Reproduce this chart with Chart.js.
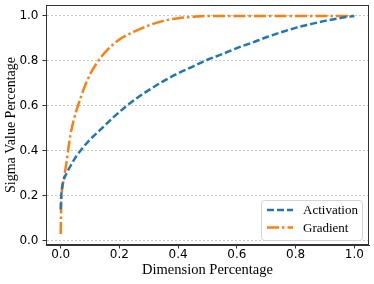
<!DOCTYPE html>
<html>
<head>
<meta charset="utf-8">
<script src="https://cdn.jsdelivr.net/npm/chart.js@4"></script>
<style>
  html, body { margin: 0; padding: 0; background: #fff; }
</style>
</head>
<body>
<canvas id="chart" width="374" height="284"></canvas>
<script>
// values
const activationX = [0, 0.002, 0.005, 0.01, 0.02, 0.03, 0.05, 0.07, 0.1, 0.14, 0.18, 0.22, 0.26, 0.3,
  0.35, 0.4, 0.45, 0.5, 0.55, 0.6, 0.65, 0.7, 0.75, 0.8, 0.85, 0.9, 0.95, 1.0];
const activationY = [0.14, 0.20, 0.24, 0.27, 0.30, 0.325, 0.37, 0.405, 0.45, 0.50, 0.55, 0.595, 0.635, 0.67,
  0.71, 0.745, 0.775, 0.805, 0.83, 0.857, 0.88, 0.905, 0.927, 0.947, 0.963, 0.978, 0.99, 1.0];

const gradientX = [0, 0.002, 0.005, 0.01, 0.015, 0.02, 0.025, 0.033, 0.045, 0.06, 0.08, 0.1, 0.128, 0.16,
  0.2, 0.25, 0.3, 0.35, 0.4, 0.45, 0.5, 0.6, 0.7, 0.8, 0.9, 1.0];
const gradientY = [0.03, 0.18, 0.23, 0.27, 0.31, 0.35, 0.40, 0.47, 0.54, 0.605, 0.68, 0.74, 0.80, 0.85,
  0.895, 0.93, 0.958, 0.978, 0.99, 0.996, 1.0, 1.0, 1.0, 1.0, 1.0, 1.0];

const xTicks = [0, 0.2, 0.4, 0.6, 0.8, 1.0];
const yTicks = [0, 0.2, 0.4, 0.6, 0.8, 1.0];

const toPoints = (xs, ys) => xs.map((x, i) => ({ x: x, y: ys[i] }));

const serif = '"Liberation Serif", "DejaVu Serif", serif';
const sans = '"DejaVu Sans", sans-serif';

// box around the plot area (matplotlib-style spines)
const framePlugin = {
  id: 'frame',
  afterDatasetsDraw(chart) {
    const a = chart.chartArea;
    const ctx = chart.ctx;
    ctx.save();
    ctx.strokeStyle = '#333';
    ctx.lineWidth = 1;
    ctx.strokeRect(Math.round(a.left) + 0.5, Math.round(a.top) + 0.5,
      Math.round(a.right - a.left) - 1, Math.round(a.bottom - a.top) - 1);
    ctx.restore();
  }
};

// legend inside the plot, lower right
const legendPlugin = {
  id: 'innerLegend',
  afterDraw(chart) {
    const ctx = chart.ctx;
    const a = chart.chartArea;
    const w = 101, h = 40;
    const bx = a.right - 7 - w, by = a.bottom - 5 - h;
    ctx.save();
    ctx.beginPath();
    ctx.roundRect(bx + 0.5, by + 0.5, w, h, 3);
    ctx.fillStyle = 'rgba(255,255,255,0.8)';
    ctx.fill();
    ctx.strokeStyle = '#d4d4d4';
    ctx.lineWidth = 1;
    ctx.stroke();
    chart.data.datasets.forEach((ds, i) => {
      const y = by + 10 + i * 17.6;
      ctx.beginPath();
      ctx.setLineDash(ds.borderDash);
      ctx.strokeStyle = ds.borderColor;
      ctx.lineWidth = ds.borderWidth;
      ctx.moveTo(bx + 6, y);
      ctx.lineTo(bx + 32, y);
      ctx.stroke();
      ctx.setLineDash([]);
      ctx.fillStyle = '#000';
      ctx.font = '13px ' + serif;
      ctx.textBaseline = 'middle';
      ctx.textAlign = 'left';
      ctx.fillText(ds.label, bx + 42, y + 0.5);
    });
    ctx.restore();
  }
};

const fixPadding = axis => {
  axis.paddingTop = 0;
  axis.paddingBottom = 0;
  axis.paddingLeft = 0;
  axis.paddingRight = 0;
};

new Chart(document.getElementById('chart'), {
  type: 'line',
  data: {
    datasets: [{
      label: 'Activation',
      data: toPoints(activationX, activationY),
      borderColor: '#1f77b4',
      borderWidth: 2.5,
      borderDash: [7, 3],
      pointRadius: 0,
      cubicInterpolationMode: 'monotone',
      fill: false
    }, {
      label: 'Gradient',
      data: toPoints(gradientX, gradientY),
      borderColor: '#ff7f0e',
      borderWidth: 2.5,
      borderDash: [12, 3, 2.5, 3],
      pointRadius: 0,
      cubicInterpolationMode: 'monotone',
      fill: false
    }]
  },
  options: {
    responsive: false,
    animation: false,
    devicePixelRatio: 1,
    layout: { padding: { top: 5, right: 5, left: 0, bottom: 0 } },
    plugins: {
      legend: { display: false },
      tooltip: { enabled: false }
    },
    scales: {
      x: {
        type: 'linear',
        min: -0.05,
        max: 1.05,
        afterBuildTicks: axis => { axis.ticks = xTicks.map(v => ({ value: v })); },
        afterFit: axis => { axis.height = 39; fixPadding(axis); },
        ticks: {
          padding: 0,
          color: '#000',
          font: { family: sans, size: 12, lineHeight: 1 },
          maxRotation: 0,
          callback: v => v.toFixed(1)
        },
        grid: { drawOnChartArea: false, tickLength: 3.5, tickColor: '#333' },
        border: { color: '#333' },
        title: {
          display: true,
          text: 'Dimension Percentage',
          color: '#000',
          font: { family: serif, size: 14.5 },
          padding: { top: 0, bottom: 5 }
        }
      },
      y: {
        type: 'linear',
        min: -0.0185,
        max: 1.0485,
        afterBuildTicks: axis => { axis.ticks = yTicks.map(v => ({ value: v })); },
        afterFit: axis => { axis.width = 46; fixPadding(axis); },
        ticks: {
          padding: 4,
          color: '#000',
          font: { family: sans, size: 12 },
          callback: v => v.toFixed(1)
        },
        grid: { color: '#c8c8c8', lineWidth: 1, tickLength: 3.5, tickColor: '#333' },
        border: { color: '#333', dash: [2, 2] },
        title: {
          display: true,
          text: 'Sigma Value Percentage',
          color: '#000',
          font: { family: serif, size: 14 },
          padding: { top: 3, bottom: 0 }
        }
      }
    }
  },
  plugins: [framePlugin, legendPlugin]
});
</script>
</body>
</html>
